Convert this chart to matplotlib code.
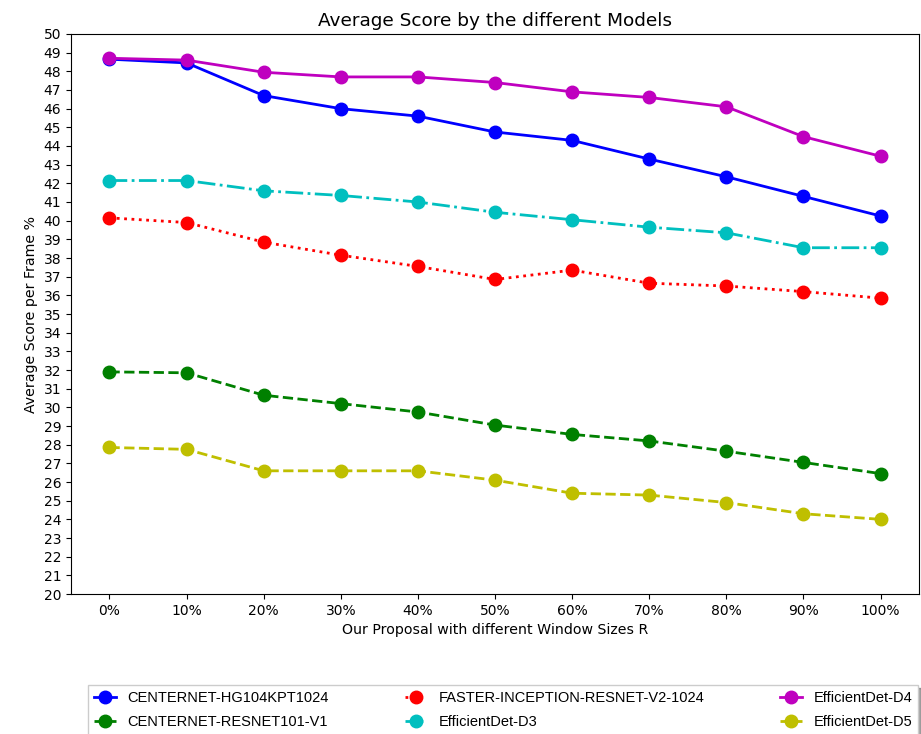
import matplotlib
matplotlib.use('Agg')
import matplotlib.pyplot as plt
import numpy as np

# Window sizes R
window_sizes = ['0%', '10%', '20%', '30%', '40%', '50%', '60%', '70%', '80%', '90%', '100%']

# Average score per frame for each model
centernet_hg104 = [48.65, 48.45, 46.7, 46.0, 45.6, 44.75, 44.3, 43.3, 42.35, 41.3, 40.25]
centernet_resnet101 = [31.9, 31.85, 30.65, 30.2, 29.75, 29.05, 28.55, 28.2, 27.65, 27.05, 26.45]
faster_inception = [40.15, 39.9, 38.85, 38.15, 37.55, 36.85, 37.35, 36.65, 36.5, 36.2, 35.85]
efficientdet_d3 = [42.15, 42.15, 41.6, 41.35, 41.0, 40.45, 40.05, 39.65, 39.35, 38.55, 38.55]
efficientdet_d4 = [48.7, 48.6, 47.95, 47.7, 47.7, 47.4, 46.9, 46.6, 46.1, 44.5, 43.45]
efficientdet_d5 = [27.85, 27.75, 26.6, 26.6, 26.6, 26.1, 25.4, 25.3, 24.9, 24.3, 24.0]

x = np.arange(len(window_sizes))

fig = plt.figure(figsize=(9.21, 7.34), dpi=100)
ax = fig.add_axes([0.077, 0.1907, 0.921, 0.763])

ax.plot(x, centernet_hg104, 'b-o', lw=2, ms=9, label='CENTERNET-HG104KPT1024')
ax.plot(x, centernet_resnet101, 'g--o', lw=2, ms=9, label='CENTERNET-RESNET101-V1')
ax.plot(x, faster_inception, 'r:o', lw=2, ms=9, label='FASTER-INCEPTION-RESNET-V2-1024')
ax.plot(x, efficientdet_d3, 'c-.o', lw=2, ms=9, label='EfficientDet-D3')
ax.plot(x, efficientdet_d4, 'm-o', lw=2, ms=9, label='EfficientDet-D4')
ax.plot(x, efficientdet_d5, 'y--o', lw=2, ms=9, label='EfficientDet-D5')

ax.set_xticks(x)
ax.set_xticklabels(window_sizes)
ax.set_yticks(np.arange(20, 51, 1))
ax.set_xlim(-0.5, 10.5)
ax.set_ylim(20, 50)
ax.tick_params(labelsize=10)
ax.set_title('Average Score by the different Models', fontsize=13.3)
ax.set_xlabel('Our Proposal with different Window Sizes R', fontsize=10.2)
ax.set_ylabel('Average Score per Frame %', fontsize=10.2)

fig.legend(loc='upper left', bbox_to_anchor=(0.088, 0.0765), ncol=3,
           prop={'family': ['Liberation Sans', 'DejaVu Sans'], 'size': 10.5},
           columnspacing=5.2, handlelength=1.5, labelspacing=0.7,
           fancybox=False, shadow=True)

fig.savefig('out.png', dpi=100)
